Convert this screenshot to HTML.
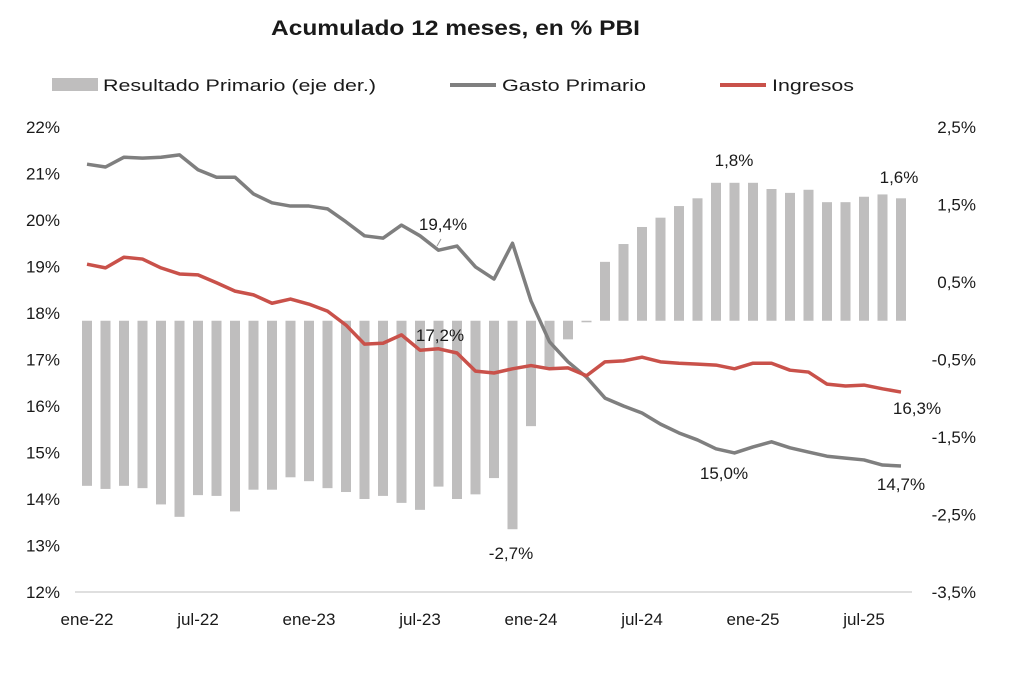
<!DOCTYPE html>
<html><head><meta charset="utf-8"><style>
body{margin:0;background:#fff;}
svg text{font-family:"Liberation Sans",sans-serif;fill:#1a1a1a;}
</style></head><body>
<svg id="chart" width="1018" height="669">
<text x="271" y="35" font-size="21" font-weight="bold" textLength="369" lengthAdjust="spacingAndGlyphs">Acumulado 12 meses, en % PBI</text>
<g>
<rect x="52" y="78" width="46" height="13" fill="#bfbebe"></rect>
<text x="103" y="91" font-size="17" textLength="273" lengthAdjust="spacingAndGlyphs">Resultado Primario (eje der.)</text>
<line x1="450" y1="85" x2="496" y2="85" stroke="#7f7f7f" stroke-width="4"></line>
<text x="502" y="91" font-size="17" textLength="144" lengthAdjust="spacingAndGlyphs">Gasto Primario</text>
<line x1="720" y1="85" x2="766" y2="85" stroke="#c9514a" stroke-width="4"></line>
<text x="772" y="91" font-size="17" textLength="82" lengthAdjust="spacingAndGlyphs">Ingresos</text>
</g>
<g id="plot"></g>
</svg>
<script>
const months=['ene-22','jul-22','ene-23','jul-23','ene-24','jul-24','ene-25','jul-25'];
const leftTicks=[12,13,14,15,16,17,18,19,20,21,22];
const rightTicks=[-3.5,-2.5,-1.5,-0.5,0.5,1.5,2.5];
const resultado=[-2.13,-2.17,-2.13,-2.16,-2.37,-2.53,-2.25,-2.26,-2.46,-2.18,-2.18,-2.02,-2.07,-2.16,-2.21,-2.30,-2.26,-2.35,-2.44,-2.14,-2.30,-2.24,-2.03,-2.69,-1.36,-0.60,-0.24,-0.02,0.76,0.99,1.21,1.33,1.48,1.58,1.78,1.78,1.78,1.70,1.65,1.69,1.53,1.53,1.60,1.63,1.58];
const gasto=[21.2,21.14,21.35,21.33,21.35,21.4,21.08,20.92,20.92,20.56,20.37,20.3,20.3,20.24,19.96,19.66,19.61,19.89,19.66,19.35,19.44,18.99,18.73,19.5,18.26,17.38,16.95,16.62,16.17,16.0,15.85,15.61,15.42,15.27,15.08,14.99,15.12,15.23,15.1,15.01,14.92,14.88,14.84,14.73,14.71];
const ingresos=[19.05,18.97,19.2,19.16,18.97,18.84,18.82,18.65,18.47,18.39,18.21,18.3,18.19,18.04,17.74,17.33,17.35,17.53,17.2,17.23,17.14,16.75,16.71,16.8,16.87,16.8,16.82,16.65,16.95,16.97,17.05,16.95,16.92,16.9,16.88,16.8,16.92,16.92,16.77,16.73,16.47,16.43,16.45,16.37,16.3];
const NS='http://www.w3.org/2000/svg';
const g=document.getElementById('plot');
const X=i=>87+18.5*i;
const YL=v=>592-(v-12)*46.5;
const YR=v=>320.75-v*77.5;
function mk(t,a){const e=document.createElementNS(NS,t);for(const k in a)e.setAttribute(k,a[k]);g.appendChild(e);return e;}
leftTicks.forEach(v=>{const t=mk('text',{x:60,y:YL(v)+6,'font-size':17,'text-anchor':'end'});t.textContent=v+'%';

});
rightTicks.forEach(v=>{const t=mk('text',{x:976,y:YR(v)+6,'font-size':17,'text-anchor':'end'});t.textContent=String(v).replace('.',',')+'%';

});
months.forEach((m,k)=>{const t=mk('text',{x:X(k*6),y:625,'font-size':17,'text-anchor':'middle'});t.textContent=m;

});
resultado.forEach((v,i)=>{const y0=YR(0),y1=YR(v);const r=mk('rect',{x:X(i)-5,y:Math.min(y0,y1),width:10,height:Math.max(1,Math.abs(y1-y0)),fill:'#bfbebe'});

});
const ax=mk('line',{x1:75,y1:592,x2:912,y2:592,stroke:'#bfbfbf','stroke-width':1});


function line(arr,col,name){const p=mk('polyline',{points:arr.map((v,i)=>X(i)+','+YL(v)).join(' '),fill:'none',stroke:col,'stroke-width':3.5,'stroke-linejoin':'round'});

}
line(gasto,'#7f7f7f','gasto-line');
line(ingresos,'#c9514a','ingresos-line');
const labels=[['19,4%',443,230],['17,2%',440,341],['-2,7%',511,559],['1,8%',734,166],['1,6%',899,183],['16,3%',917,414],['15,0%',724,479],['14,7%',901,490]];
labels.forEach(l=>{const t=mk('text',{x:l[1],y:l[2],'font-size':17,'text-anchor':'middle'});t.textContent=l[0];

});
const ld=mk('line',{x1:441,y1:239,x2:437,y2:246,stroke:'#999','stroke-width':1});


</script>
</body></html>
